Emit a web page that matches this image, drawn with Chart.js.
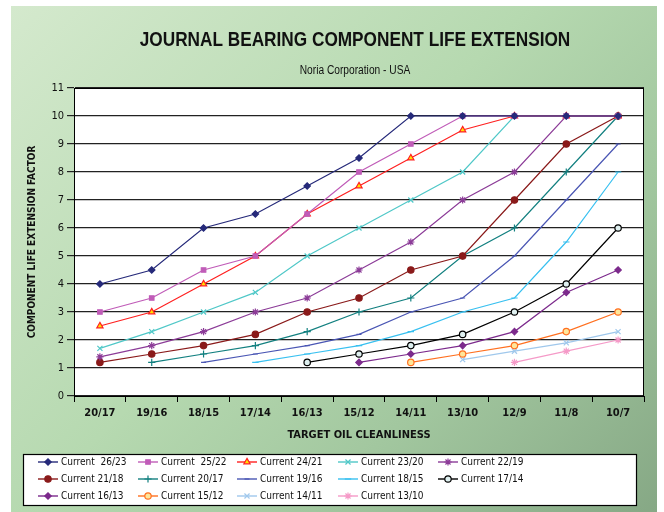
<!DOCTYPE html>
<html>
<head>
<meta charset="utf-8">
<script src="https://cdn.jsdelivr.net/npm/chart.js@4/dist/chart.umd.min.js"></script>
<style>
  html,body{margin:0;padding:0;background:#fff;}
  #wrap{position:relative;width:664px;height:512px;overflow:hidden;}
  #panel{position:absolute;left:11px;top:6px;width:646px;height:506px;
    background:linear-gradient(135deg,#d4e9cd 0%,#b6d9b0 45%,#a2c79f 70%,#86a885 100%);}
  canvas{position:absolute;left:0;top:0;}
</style>
</head>
<body>
<div id="wrap">
  <div id="panel"></div>
  <canvas id="c" width="664" height="512"></canvas>
</div>
<script>
'use strict';

/* ── DATA ── */
const cats=['20/17','19/16','18/15','17/14','16/13','15/12','14/11','13/10','12/9','11/8','10/7'];
const s2623=[4,4.5,6,6.5,7.5,8.5,10,10,10,10,10];
const s2522=[3,3.5,4.5,5,6.5,8,9,10,10,10,10];
const s2421=[2.5,3,4,5,6.5,7.5,8.5,9.5,10,10,10];
const s2320=[1.7,2.3,3,3.7,5,6,7,8,10,10,10];
const s2219=[1.4,1.8,2.3,3,3.5,4.5,5.5,7,8,10,10];
const s2118=[1.2,1.5,1.8,2.2,3,3.5,4.5,5,7,9,10];
const s2017=[null,1.2,1.5,1.8,2.3,3,3.5,5,6,8,10];
const s1916=[null,null,1.2,1.5,1.8,2.2,3,3.5,5,7,9];
const s1815=[null,null,null,1.2,1.5,1.8,2.3,3,3.5,5.5,8];
const s1714=[null,null,null,null,1.2,1.5,1.8,2.2,3,4,6];
const s1613=[null,null,null,null,null,1.2,1.5,1.8,2.3,3.7,4.5];
const s1512=[null,null,null,null,null,null,1.2,1.5,1.8,2.3,3];
const s1411=[null,null,null,null,null,null,null,1.3,1.6,1.9,2.3];
const s1310=[null,null,null,null,null,null,null,null,1.2,1.6,2];
const yTicks=[0,1,2,3,4,5,6,7,8,9,10,11];

const FONT="'DejaVu Sans Condensed','Liberation Sans',Arial,sans-serif";
const TFONT="'Liberation Sans',Arial,sans-serif";

/* ── DATASETS ── */
function ds(label,data,color,style,fill,r){
  return {label,data,borderColor:color,backgroundColor:fill||color,
    pointBorderColor:color,pointBackgroundColor:fill||color,
    pointStyle:style,pointRadius:r||3.2,pointHoverRadius:r||3.2,
    pointBorderWidth:1.2,borderWidth:1.2,tension:0,spanGaps:false};
}
const datasets=[
  ds('Current  26/23',s2623,'#262a7a','rectRot'),
  ds('Current  25/22',s2522,'#c05cb8','rect'),
  ds('Current 24/21',s2421,'#ff2020','triangle','#ffe000',3.6),
  ds('Current 23/20',s2320,'#50c8c8','crossRot',null,3.6),
  ds('Current 22/19',s2219,'#8c3c98','star',null,3.6),
  ds('Current 21/18',s2118,'#8a1a1a','circle'),
  ds('Current 20/17',s2017,'#138080','cross',null,3.6),
  ds('Current 19/16',s1916,'#4a56b4','line',null,2.5),
  ds('Current 18/15',s1815,'#38c0f0','line',null,3.2),
  ds('Current 17/14',s1714,'#000000','circle','#dff0f0'),
  ds('Current 16/13',s1613,'#7c2a8c','rectRot'),
  ds('Current 15/12',s1512,'#ff7020','circle','#ffe69a'),
  ds('Current 14/11',s1411,'#a0c8ec','crossRot',null,3.6),
  ds('Current 13/10',s1310,'#f59ac8','star',null,3.6)
];

/* ── PLUGIN: plot bg, frame, titles, legend ── */
const deco={
  id:'deco',
  beforeDraw(chart){
    const {ctx,chartArea:a}=chart;
    ctx.save();
    ctx.fillStyle='#fff';
    ctx.fillRect(a.left,a.top,a.right-a.left,a.bottom-a.top);
    ctx.restore();
  },
  afterDatasetsDraw(chart){
    const {ctx,chartArea:a}=chart;
    ctx.save();
    ctx.strokeStyle='#000';ctx.lineWidth=1;
    ctx.strokeRect(a.left+0.5,a.top+0.5,a.right-a.left-1,a.bottom-a.top);
    ctx.restore();
  },
  afterDraw(chart){
    const ctx=chart.ctx;
    ctx.save();
    ctx.fillStyle='#111';
    ctx.textAlign='center';ctx.textBaseline='middle';
    // condensed title: squeeze horizontally
    ctx.save();
    ctx.translate(355,40);ctx.scale(0.82,1);
    ctx.font="bold 21px "+TFONT;
    ctx.fillText('JOURNAL BEARING COMPONENT LIFE EXTENSION',0,0);
    ctx.restore();
    ctx.save();
    ctx.translate(355,71);ctx.scale(0.85,1);
    ctx.font="12px "+TFONT;
    ctx.fillText('Noria Corporation - USA',0,0);
    ctx.restore();

    // legend
    const bx=23,by=454,bw=613,bh=51;
    ctx.fillStyle='#fff';ctx.fillRect(bx,by,bw,bh);
    ctx.strokeStyle='#000';ctx.lineWidth=1.2;
    ctx.strokeRect(bx+0.5,by+0.5,bw,bh);
    const colX=[38,138,237,338,438],rowY=[462,479,496];
    ctx.font="10px "+FONT;ctx.textAlign='left';
    chart.data.datasets.forEach((d,i)=>{
      const x=colX[i%5],y=rowY[Math.floor(i/5)];
      ctx.strokeStyle=d.borderColor;ctx.lineWidth=1.4;
      ctx.beginPath();ctx.moveTo(x,y);ctx.lineTo(x+20,y);ctx.stroke();
      if(Chart.helpers&&Chart.helpers.drawPoint){
        ctx.fillStyle=d.pointBackgroundColor;ctx.strokeStyle=d.pointBorderColor;ctx.lineWidth=1.2;
        Chart.helpers.drawPoint(ctx,{pointStyle:d.pointStyle,radius:d.pointRadius,rotation:0,borderWidth:1.2},x+10,y);
      }
      ctx.fillStyle='#111';
      ctx.fillText(d.label,x+23,y+0.5);
    });
    ctx.restore();
  }
};

/* ── CHART ── */
new Chart(document.getElementById('c'),{
  type:'line',
  data:{labels:cats,datasets},
  options:{
    responsive:false,animation:false,
    layout:{padding:{left:0,right:20,top:88,bottom:66}},
    plugins:{legend:{display:false},tooltip:{enabled:false}},
    scales:{
      x:{
        offset:true,
        afterFit(s){s.height=50;},
        grid:{offset:true,drawOnChartArea:false,drawTicks:true,tickLength:6,color:'#000',lineWidth:1},
        border:{color:'#000',width:1},
        ticks:{color:'#111',padding:5,maxRotation:0,autoSkip:false,font:{family:FONT,size:11,weight:'bold'}},
        title:{display:true,text:'TARGET OIL CLEANLINESS',color:'#111',padding:{top:0,bottom:4},
          font:{family:FONT,size:11,weight:'bold'}}
      },
      y:{
        min:0,max:11,
        afterFit(s){s.width=74;},
        afterBuildTicks(s){s.ticks=yTicks.map(v=>({value:v}));},
        grid:{color:'#222',lineWidth:1.2,tickLength:7},
        border:{color:'#000',width:1},
        ticks:{color:'#111',padding:3,font:{family:FONT,size:11}},
        title:{display:true,text:'COMPONENT LIFE EXTENSION FACTOR',color:'#111',padding:{top:26,bottom:0},
          font:{family:FONT,size:10,weight:'bold'}}
      }
    }
  },
  plugins:[deco]
});
</script>
</body>
</html>
